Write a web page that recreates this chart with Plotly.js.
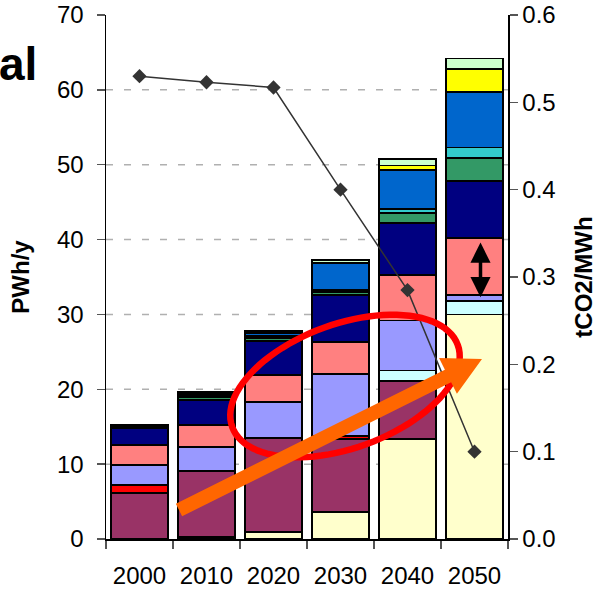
<!DOCTYPE html>
<html>
<head>
<meta charset="utf-8">
<script src="https://cdn.plot.ly/plotly-3.0.1.min.js"></script>
<style>
  html, body { margin: 0; padding: 0; background: #ffffff; }
  #chart { width: 599px; height: 593px; }
</style>
</head>
<body>
<div id="chart"></div>
<script>
// Electricity generation by source (PWh/y) and CO2 intensity (tCO2/MWh)
const years = ['2000', '2010', '2020', '2030', '2040', '2050'];

const coalCCS    = [null, 0.25, 0.94, 3.6, 13.35, 30.0];
const coal       = [6.18, 8.87, 12.51, 9.8, 7.8, null];
const oil        = [1.03, null, null, 0.4, null, null];
const gasCCS     = [null, null, null, null, 1.35, 1.8];
const gas        = [2.67, 3.21, 4.81, 8.2, 6.7, 0.8];
const nuclear    = [2.63, 2.86, 3.64, 4.35, 6.1, 7.65];
const hydro      = [2.35, 3.42, 4.5, 6.25, 6.9, 7.55];
const biomass    = [0.15, 0.3, 0.45, 0.35, 1.35, 3.15];
const geothermal = [0.05, 0.2, 0.3, 0.3, 0.55, 1.35];
const wind       = [0.1, 0.3, 0.35, 3.6, 5.15, 7.4];
const solar      = [null, 0.1, 0.15, null, 0.65, 3.1];
const ocean      = [0.1, 0.1, 0.2, 0.45, 0.85, 1.4];

const co2Intensity = [0.53, 0.523, 0.517, 0.40, 0.285, 0.10];

const gridValues = [10, 20, 30, 40, 50, 60];

// span of the nuclear block in 2050 marked by the double arrow
const nuclear2050Bottom = 32.3, nuclear2050Top = 39.8;

const sources = [
  { name: 'Coal + CCS',  y: coalCCS,    color: '#FFFFCC' },
  { name: 'Coal',        y: coal,       color: '#993366' },
  { name: 'Oil',         y: oil,        color: '#FF0000' },
  { name: 'Gas + CCS',   y: gasCCS,     color: '#CCFFFF' },
  { name: 'Gas',         y: gas,        color: '#9999FF' },
  { name: 'Nuclear',     y: nuclear,    color: '#FF8080' },
  { name: 'Hydro',       y: hydro,      color: '#000080' },
  { name: 'Biomass',     y: biomass,    color: '#339966' },
  { name: 'Geothermal',  y: geothermal, color: '#33CCCC' },
  { name: 'Wind',        y: wind,       color: '#0066CC' },
  { name: 'Solar',       y: solar,      color: '#FFFF00' },
  { name: 'Ocean',       y: ocean,      color: '#CCFFCC' }
];

const traces = sources.map(s => ({
  type: 'bar',
  name: s.name,
  x: years,
  y: s.y,
  marker: { color: s.color, line: { color: '#000000', width: 1.8 } }
}));

traces.push({
  type: 'scatter',
  mode: 'lines+markers',
  name: 'CO2 intensity',
  x: years,
  y: co2Intensity,
  yaxis: 'y2',
  line: { color: '#333333', width: 1.5 },
  marker: { symbol: 'diamond', size: 11, color: '#333333' }
});

// plot-area geometry in pixels, used to place the drawn overlays
const L = 106, T = 15, W = 402, H = 524;
function toPaper(px, py) { return [(px - L) / W, (T + H - py) / H]; }
function pathFrom(points, close) {
  return points.map((p, i) => {
    const q = toPaper(p[0], p[1]);
    return (i === 0 ? 'M' : 'L') + q[0].toFixed(4) + ',' + q[1].toFixed(4);
  }).join(' ') + (close ? ' Z' : '');
}

// tilted ellipse
function ellipsePoints(cx, cy, a, b, deg) {
  const th = deg * Math.PI / 180, pts = [];
  for (let i = 0; i <= 96; i++) {
    const t = 2 * Math.PI * i / 96;
    const x = cx + a * Math.cos(th) * Math.cos(t) - b * Math.sin(th) * Math.sin(t);
    const y = cy - (a * Math.sin(th) * Math.cos(t) + b * Math.cos(th) * Math.sin(t));
    pts.push([x, y]);
  }
  return pts;
}

// thick block arrow from (x0,y0) to tip (x1,y1)
function arrowPoints(x0, y0, x1, y1, shaft, headW, headL) {
  const dx = x1 - x0, dy = y1 - y0, len = Math.hypot(dx, dy);
  const ux = dx / len, uy = dy / len, nx = -uy, ny = ux;
  const bx = x1 - ux * headL, by = y1 - uy * headL;
  const s = shaft / 2, h = headW / 2;
  return [
    [x0 + nx * s, y0 + ny * s],
    [bx + nx * s, by + ny * s],
    [bx + nx * h, by + ny * h],
    [x1, y1],
    [bx - nx * h, by - ny * h],
    [bx - nx * s, by - ny * s],
    [x0 - nx * s, y0 - ny * s]
  ];
}

const FONT = 'Liberation Sans, Arial, sans-serif';
const axisFont = { family: FONT, size: 24, color: '#000000' };

// dashed horizontal grid behind the bars
const gridShapes = gridValues.map(v => ({
  type: 'line', xref: 'paper', yref: 'y', layer: 'below',
  x0: 0, x1: 1, y0: v, y1: v,
  line: { color: '#b0b0b0', width: 1.5, dash: '7px,11px' }
}));

const layout = {
  width: 599,
  height: 593,
  margin: { l: L, r: 599 - L - W, t: T, b: 593 - T - H },
  paper_bgcolor: '#ffffff',
  plot_bgcolor: 'rgba(0,0,0,0)',
  barmode: 'stack',
  bargap: 0.16,
  showlegend: false,
  font: axisFont,
  xaxis: {
    type: 'category',
    categoryorder: 'array', categoryarray: years,
    range: [-0.5, years.length - 0.5],
    showline: true, linecolor: '#000000', linewidth: 1.5,
    ticks: 'outside', tickson: 'boundaries', ticklen: 8, tickcolor: '#555555', tickwidth: 1.5,
    ticklabelstandoff: 15,
    showgrid: false, tickangle: 0,
    tickfont: axisFont
  },
  yaxis: {
    range: [0, 70], dtick: 10,
    showline: true, linecolor: '#000000', linewidth: 1.5,
    ticks: 'outside', ticklen: 8, tickcolor: '#555555', tickwidth: 1.5,
    ticklabelstandoff: 8,
    showgrid: false, zeroline: false,
    tickfont: axisFont,
    title: { text: '<b>PWh/y</b>', font: axisFont, standoff: 20 }
  },
  yaxis2: {
    range: [0, 0.6], dtick: 0.1, tickformat: '.1f',
    overlaying: 'y', side: 'right',
    showline: true, linecolor: '#000000', linewidth: 1.5,
    ticks: 'outside', ticklen: 8, tickcolor: '#555555', tickwidth: 1.5,
    showgrid: false, zeroline: false,
    tickfont: axisFont,
    title: { text: '<b>tCO2/MWh</b>', font: axisFont, standoff: 20 }
  },
  shapes: gridShapes.concat([
    {
      type: 'path', xref: 'paper', yref: 'paper', layer: 'above',
      path: pathFrom(ellipsePoints(345, 386, 120, 62, 20), true),
      line: { color: '#FF0000', width: 6.5 }, fillcolor: 'rgba(0,0,0,0)'
    },
    {
      type: 'path', xref: 'paper', yref: 'paper', layer: 'above',
      path: pathFrom(arrowPoints(179, 510, 482, 359, 14, 40, 38), true),
      line: { width: 0 }, fillcolor: '#FF6600'
    }
  ]),
  annotations: [
    {
      xref: 'paper', yref: 'paper', x: (39 - L) / W, y: (T + H - 64) / H,
      xanchor: 'right', yanchor: 'middle', showarrow: false,
      text: '<b>al</b>',
      font: { family: FONT, size: 46, color: '#000000' }
    },
    {
      xref: 'x', yref: 'y', axref: 'pixel', ayref: 'y',
      x: years.length - 1, y: nuclear2050Bottom, ax: 0, ay: nuclear2050Top, xshift: 6,
      text: '', showarrow: true,
      arrowside: 'end+start', arrowhead: 2, startarrowhead: 2,
      arrowwidth: 3.5, arrowsize: 1.15, startarrowsize: 1.15, arrowcolor: '#000000'
    }
  ]
};

Plotly.newPlot('chart', traces, layout, { displayModeBar: false, staticPlot: true });
</script>
</body>
</html>
